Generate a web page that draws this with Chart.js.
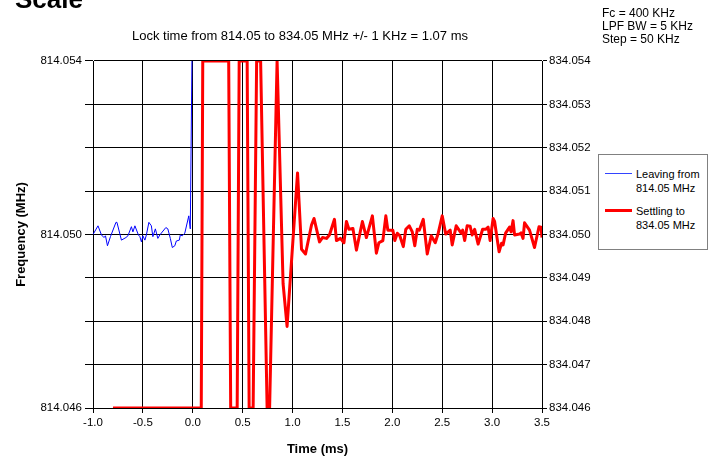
<!DOCTYPE html>
<html>
<head>
<meta charset="utf-8">
<script src="https://cdn.jsdelivr.net/npm/chart.js@4/dist/chart.umd.min.js"></script>
<style>
  html, body { margin: 0; padding: 0; background: #fff; }
  #wrap { position: relative; width: 710px; height: 457px; overflow: hidden; font-family: "Liberation Sans", Arial, sans-serif; color: #000; }
  #c { position: absolute; left: 0; top: 0; }
  #scale { position: absolute; left: 15px; top: -16px; font-size: 26px; font-weight: bold; line-height: 30px; }
  #title { position: absolute; left: 100px; width: 400px; top: 28px; text-align: center; font-size: 13px; line-height: 16px; white-space: nowrap; }
  #params { position: absolute; left: 602px; top: 7px; font-size: 12px; line-height: 12.8px; white-space: nowrap; }
  #legend { position: absolute; left: 598px; top: 154px; width: 110px; height: 96px; border: 1px solid #808080; box-sizing: border-box; background: #fff; font-size: 11px; line-height: 14px; }
  .item { position: absolute; left: 6px; }
  .swatch { position: absolute; left: 0; width: 27px; }
  .lbl { position: absolute; left: 31px; white-space: nowrap; }
</style>
</head>
<body>
<div id="wrap">
  <canvas id="c" width="710" height="457"></canvas>
  <div id="scale">Scale</div>
  <div id="title"></div>
  <div id="params">Fc = 400 KHz<br>LPF BW = 5 KHz<br>Step = 50 KHz</div>
  <div id="legend">
    <div class="item" style="top:12px">
      <div class="swatch" style="top:6px;height:1px;background:#3344ff"></div>
      <div class="lbl" style="top:0">Leaving from<br>814.05 MHz</div>
    </div>
    <div class="item" style="top:49px">
      <div class="swatch" style="top:5px;height:3px;background:#ff0000"></div>
      <div class="lbl" style="top:0">Settling to<br>834.05 MHz</div>
    </div>
  </div>
</div>
<script>
// ---- Data ----
const titleText = 'Lock time from 814.05 to 834.05 MHz +/- 1 KHz = 1.07 ms';
const xTickLabels = ['-1.0','-0.5','0.0','0.5','1.0','1.5','2.0','2.5','3.0','3.5'];
const leftTickLabels = ['814.046','814.050','814.054'];

// Leaving from 814.05 MHz (blue) - time in ms, frequency in MHz
const blueTime = [-1.0,-0.95,-0.915,-0.89,-0.875,-0.855,-0.825,-0.77,-0.76,-0.715,-0.67,-0.65,-0.615,-0.6,-0.58,-0.545,-0.53,-0.515,-0.5,-0.48,-0.465,-0.44,-0.415,-0.4,-0.375,-0.35,-0.33,-0.27,-0.25,-0.225,-0.205,-0.18,-0.165,-0.135,-0.125,-0.105,-0.08,-0.04,-0.025,0.0];
const blueFreq = [814.05000,814.05020,814.04999,814.04993,814.04997,814.04974,814.04995,814.05028,814.05028,814.04987,814.04993,814.04997,814.05018,814.05006,814.05020,814.04999,814.04995,814.04983,814.04997,814.04987,814.04999,814.05028,814.05020,814.04995,814.05013,814.04991,814.04999,814.05016,814.05013,814.04991,814.04970,814.04974,814.04985,814.04987,814.04999,814.04997,814.05003,814.05043,814.05013,814.05600];

// Settling to 834.05 MHz (red)
const redTime = [-0.8,0.085,0.10,0.36,0.38,0.445,0.465,0.545,0.565,0.605,0.64,0.68,0.745,0.77,0.845,0.905,0.945,1.05,1.09,1.13,1.19,1.215,1.27,1.30,1.34,1.37,1.42,1.44,1.48,1.515,1.54,1.565,1.605,1.64,1.70,1.74,1.80,1.84,1.865,1.905,1.935,1.955,2.005,2.025,2.05,2.075,2.11,2.135,2.17,2.20,2.225,2.25,2.27,2.31,2.35,2.39,2.43,2.46,2.50,2.535,2.58,2.60,2.64,2.69,2.705,2.725,2.75,2.78,2.80,2.825,2.86,2.905,2.935,2.96,2.98,3.01,3.025,3.07,3.095,3.11,3.135,3.175,3.19,3.21,3.225,3.275,3.29,3.31,3.325,3.375,3.425,3.47,3.49,3.5];
const redFreq = [834.046,834.046,834.054,834.054,834.046,834.046,834.054,834.054,834.046,834.046,834.054,834.054,834.046,834.046,834.054,834.04887,834.04788,834.05142,834.04966,834.04955,834.05022,834.05037,834.04983,834.04993,834.04991,834.04999,834.05035,834.04986,834.04991,834.04981,834.05030,834.05012,834.05014,834.04964,834.05030,834.04993,834.05043,834.04957,834.04981,834.04986,834.05043,834.05010,834.05010,834.04986,834.05003,834.04997,834.04972,834.05012,834.05020,834.05006,834.04974,834.05012,834.05010,834.05035,834.04955,834.04997,834.04981,834.05003,834.05043,834.05001,834.05010,834.04976,834.05020,834.05003,834.05010,834.04986,834.05020,834.05019,834.04999,834.05012,834.04978,834.05012,834.05012,834.05017,834.04986,834.05037,834.05030,834.04960,834.04980,834.04976,834.05003,834.05017,834.05006,834.05032,834.04999,834.05001,834.05004,834.04991,834.05027,834.05010,834.04970,834.05018,834.05017,834.04993];

document.getElementById('title').textContent = titleText;

const FONT = '"Liberation Sans", Arial, sans-serif';
const TICK = 11.5;
const toPts = (t, v) => t.map((x, i) => ({x: x, y: v[i]}));

new Chart(document.getElementById('c'), {
  type: 'line',
  data: {
    datasets: [
      { label: 'Leaving from 814.05 MHz', data: toPts(blueTime, blueFreq), yAxisID: 'y',
        borderColor: '#0000ff', borderWidth: 1, pointRadius: 0, tension: 0, fill: false },
      { label: 'Settling to 834.05 MHz', data: toPts(redTime, redFreq), yAxisID: 'y2',
        borderColor: '#ff0000', borderWidth: 3, pointRadius: 0, tension: 0, fill: false,
        borderJoinStyle: 'round' }
    ]
  },
  options: {
    responsive: false,
    devicePixelRatio: 1,
    animation: false,
    events: [],
    layout: { padding: { left: 10, right: 112, top: 61, bottom: 0 } },
    plugins: {
      legend: { display: false },
      tooltip: { enabled: false },
      title: { display: false }
    },
    scales: {
      x: {
        type: 'linear', min: -1, max: 3.5,
        afterBuildTicks(s) { s.ticks = xTickLabels.map(l => ({ value: parseFloat(l) })); },
        afterFit(s) { s.height = 49; },
        ticks: { color: '#000', font: { family: FONT, size: TICK }, padding: 3, maxRotation: 0,
          callback: (v) => { const l = xTickLabels.find(t => Math.abs(parseFloat(t) - v) < 1e-9); return l || ''; } },
        grid: { color: '#000', lineWidth: 1, tickLength: 5, drawTicks: true },
        border: { color: '#000', width: 1 },
        title: { display: true, text: 'Time (ms)', color: '#000', font: { family: FONT, size: 13, weight: 'bold' }, padding: { top: 3, bottom: 0 } }
      },
      y: {
        type: 'linear', position: 'left', min: 814.046, max: 814.054,
        afterBuildTicks(s) { const t = []; for (let k = 0; k <= 8; k++) t.push({ value: 814.046 + k * 0.001 }); s.ticks = t; },
        afterFit(s) { s.width = 83; },
        ticks: { color: '#000', font: { family: FONT, size: TICK }, padding: 3,
          callback: (v) => { const s = v.toFixed(3); return leftTickLabels.includes(s) ? s : ''; } },
        grid: { color: '#000', lineWidth: 1, tickLength: 8 },
        border: { color: '#000', width: 1 },
        title: { display: true, text: 'Frequency (MHz)', color: '#000', font: { family: FONT, size: 13, weight: 'bold' }, padding: { top: 4, bottom: 4 } }
      },
      y2: {
        type: 'linear', position: 'right', min: 834.046, max: 834.054,
        afterBuildTicks(s) { const t = []; for (let k = 0; k <= 8; k++) t.push({ value: 834.046 + k * 0.001 }); s.ticks = t; },
        afterFit(s) { s.width = 56; },
        ticks: { color: '#000', font: { family: FONT, size: TICK }, padding: 2,
          callback: (v) => v.toFixed(3) },
        grid: { drawOnChartArea: false, color: '#000', tickLength: 5 },
        border: { color: '#000', width: 1 }
      }
    }
  }
});
</script>
</body>
</html>
